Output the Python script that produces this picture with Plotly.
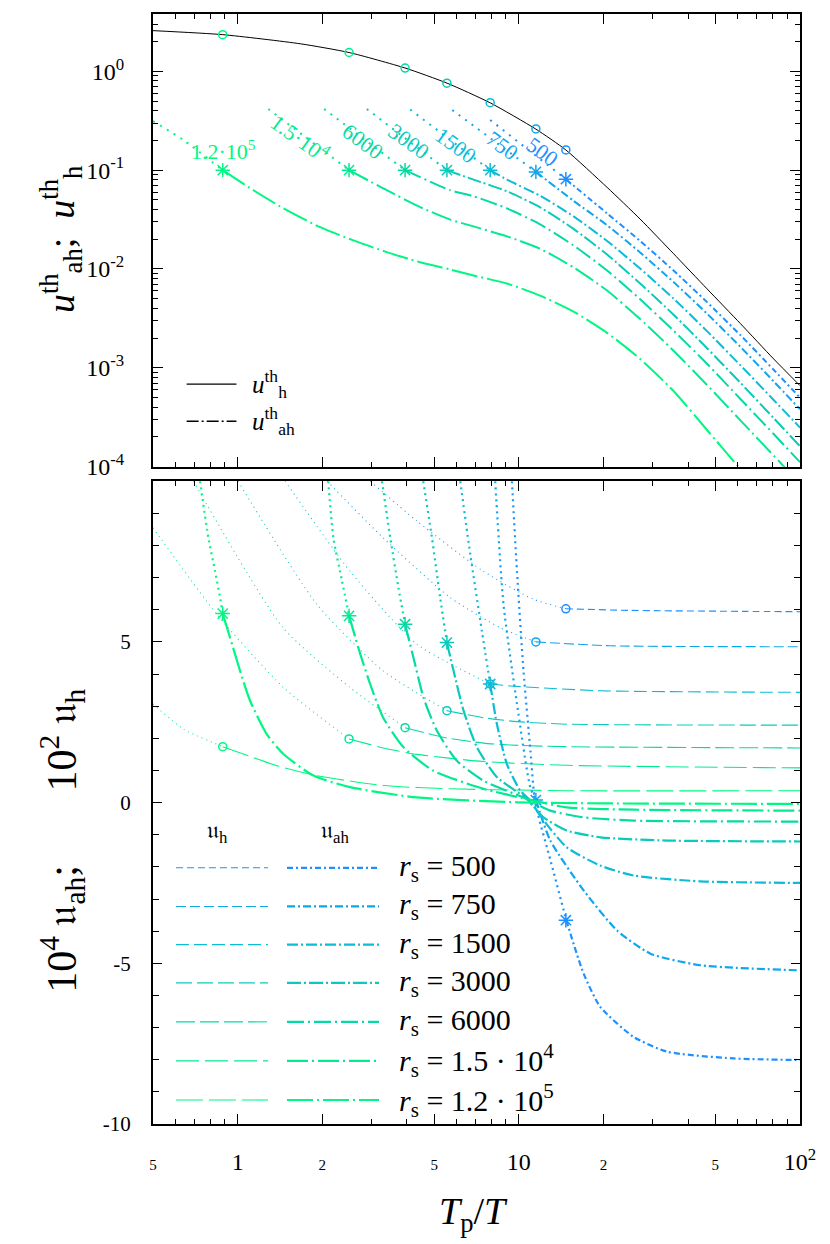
import math
import plotly.graph_objects as go

# ── values; order of every list: r_s = 500, 750, 1500, 3000, 6000, 1.5e4, 1.2e5 ──
RS_TEXT = ["500", "750", "1500", "3000", "6000", "1.5 · 10<sup>4</sup>", "1.2 · 10<sup>5</sup>"]
RS_TAG = ["500", "750", "1500", "3000", "6000", "1.5·10<sup>4</sup>", "1.2·10<sup>5</sup>"]

# T_p/T where the markers sit
MARK_X = [14.7, 11.5, 7.91, 5.55, 3.94, 2.49, 0.885]
TOP_CIRCLE_Y = [0.160, 0.261, 0.482, 0.759, 1.08, 1.55, 2.35]
TOP_STAR_Y = [0.081, 0.096, 0.10, 0.10, 0.10, 0.10, 0.10]
BOT_CIRCLE_Y = [6.03, 5.0, 3.69, 2.86, 2.33, 1.98, 1.74]
BOT_STAR_Y = [-3.66, 0.08, 3.69, 4.98, 5.55, 5.81, 5.88]

# top panel: u_h^th (black)
UHTH_X = [0.5, 0.885, 1.67, 2.49, 3.94, 5.55, 7.91, 11.5, 14.7, 20.6, 27.0, 35.4, 46.7, 61.4, 80.6, 100]
UHTH_Y = [2.58, 2.35, 1.90, 1.55, 1.08, 0.76, 0.48, 0.26, 0.16, 0.067, 0.032, 0.0144, 0.0063, 0.0028, 0.00123, 0.00066]

# top panel: u_ah^th, dotted part (left of the star)
UAHTH_DOT_X = [
    [7.91, 14.7],
    [5.80, 11.5],
    [4.11, 7.91],
    [2.88, 5.55],
    [2.03, 3.94],
    [1.286, 2.49],
    [0.5, 0.641, 0.885],
]
UAHTH_DOT_Y = [
    [0.322, 0.081],
    [0.406, 0.096],
    [0.41, 0.10],
    [0.416, 0.10],
    [0.416, 0.10],
    [0.416, 0.10],
    [0.314, 0.202, 0.10],
]
# top panel: u_ah^th, dash-dot part (right of the star)
UAHTH_X = [
    [14.7, 20.6, 27.0, 35.5, 46.7, 61.4, 80.6, 100],
    [11.5, 15.65, 20.6, 27.0, 35.5, 46.7, 61.4, 80.6, 100],
    [7.91, 9.07, 11.9, 15.65, 20.6, 27.0, 35.5, 46.7, 61.4, 80.6, 100],
    [5.55, 6.90, 9.07, 11.9, 15.65, 20.6, 27.0, 35.5, 46.7, 61.4, 80.6, 100],
    [3.94, 5.70, 6.90, 9.07, 11.9, 15.65, 20.6, 27.0, 35.5, 46.7, 61.4, 80.6, 100],
    [2.49, 3.39, 4.46, 5.70, 6.90, 9.07, 11.9, 15.65, 20.6, 27.0, 35.5, 46.7, 61.4, 87.5, 100],
    [0.885, 1.137, 1.495, 1.965, 2.58, 3.39, 4.46, 5.70, 6.90, 9.07, 11.9, 15.65, 20.6, 27.0, 35.5, 46.7, 60.2, 66.6],
]
UAHTH_Y = [
    [0.081, 0.0365, 0.0192, 0.00966, 0.00462, 0.00214, 0.000955, 0.000499],
    [0.096, 0.049, 0.0277, 0.0147, 0.00738, 0.00353, 0.00163, 0.00073, 0.000381],
    [0.10, 0.0802, 0.0551, 0.0341, 0.0192, 0.0101, 0.00502, 0.00235, 0.00106, 0.000473, 0.000248],
    [0.10, 0.0802, 0.0612, 0.0421, 0.0255, 0.0140, 0.00713, 0.00345, 0.00158, 0.000705, 0.00031, 0.000161],
    [0.10, 0.0627, 0.0544, 0.0411, 0.0283, 0.0173, 0.00966, 0.00495, 0.00238, 0.0011, 0.000484, 0.000214, 0.000111],
    [0.10, 0.0627, 0.0423, 0.0316, 0.027, 0.0214, 0.016, 0.0104, 0.00605, 0.00312, 0.00149, 0.000671, 0.000294, 0.000101, 0.000068],
    [0.10, 0.0627, 0.0393, 0.0265, 0.01945, 0.01483, 0.01172, 0.00989, 0.00859, 0.00713, 0.00538, 0.00371, 0.00226, 0.00123, 0.000583, 0.000235, 0.000101, 0.000073],
]

# bottom panel: 10^2 u_h, dotted (left of circle) and dashed (right of circle)
UH_DOT_X = [
    [2.96, 4.34, 7.47, 11.26, 14.7],
    [2.08, 3.29, 5.70, 8.59, 11.5],
    [1.475, 2.51, 4.34, 7.91],
    [1.003, 1.912, 3.29, 5.55],
    [0.696, 1.45, 2.51, 3.94],
    [0.5, 0.843, 1.455, 2.49],
    [0.5, 0.641, 0.885],
]
UH_DOT_Y = [
    [10.0, 8.76, 7.2, 6.33, 6.03],
    [10.0, 8.24, 6.38, 5.44, 5.0],
    [10.0, 7.2, 4.93, 3.69],
    [10.0, 6.17, 4.1, 2.86],
    [10.0, 5.44, 3.58, 2.33],
    [8.55, 5.86, 3.58, 1.98],
    [3.07, 2.29, 1.74],
]
UH_X = [
    [14.7, 25.0, 62.9, 100],
    [11.5, 21.1, 100],
    [7.91, 9.32, 19.5, 100],
    [5.55, 7.5, 9.85, 14.8, 100],
    [3.94, 5.5, 7.49, 9.32, 14.8, 100],
    [2.49, 3.3, 4.34, 7.49, 14.8, 100],
    [0.885, 1.4, 1.912, 3.30, 5.70, 14.8, 100],
]
UH_Y = [
    [6.03, 5.98, 5.95, 5.94],
    [5.0, 4.88, 4.85],
    [3.69, 3.63, 3.48, 3.43],
    [2.86, 2.64, 2.52, 2.44, 2.41],
    [2.33, 2.02, 1.85, 1.79, 1.74, 1.70],
    [1.98, 1.70, 1.50, 1.28, 1.16, 1.08],
    [1.74, 1.13, 0.84, 0.53, 0.43, 0.37, 0.37],
]

# bottom panel: 10^4 u_ah, dotted (left of star) and dash-dot (right of star)
UAH_DOT_X = [
    [9.45, 9.85, 10.39, 11.0, 11.44, 12.99, 14.75],
    [8.24, 8.82, 9.85, 10.98, 11.5],
    [6.19, 6.72, 7.39, 7.91],
    [4.57, 4.91, 5.25, 5.55],
    [3.26, 3.49, 3.73, 3.94],
    [2.10, 2.19, 2.35, 2.49],
    [0.735, 0.755, 0.787, 0.831, 0.866, 0.885],
]
UAH_DOT_Y = [
    [10.0, 7.2, 4.1, 1.6, 0.0, -1.83, -3.66],
    [10.0, 6.17, 3.07, 0.48, 0.08],
    [10.0, 7.72, 5.34, 3.69],
    [10.0, 8.24, 6.38, 4.98],
    [10.0, 8.24, 6.69, 5.55],
    [10.0, 8.24, 6.9, 5.81],
    [10.0, 9.28, 8.24, 7.2, 6.38, 5.88],
]
UAH_X = [
    [14.75, 17.0, 19.5, 25.6, 33.7, 58.1, 100],
    [11.5, 12.94, 17.0, 22.35, 29.4, 44.2, 100],
    [7.91, 8.36, 9.07, 10.12, 10.98, 12.0, 14.8, 19.5, 25.6, 44.2, 100],
    [5.55, 5.86, 6.36, 7.10, 8.36, 10.69, 12.25, 14.8, 19.5, 33.7, 100],
    [3.94, 4.22, 4.58, 5.11, 6.02, 7.49, 10.69, 12.94, 17.0, 25.6, 100],
    [2.49, 2.73, 2.96, 3.29, 3.89, 4.97, 7.49, 10.69, 14.8, 25.6, 100],
    [0.885, 0.94, 1.02, 1.107, 1.269, 1.455, 1.86, 2.51, 4.34, 9.85, 20.0, 100],
]
UAH_Y = [
    [-3.66, -5.32, -6.36, -7.29, -7.75, -7.96, -8.01],
    [0.08, -1.18, -2.73, -3.98, -4.70, -5.06, -5.22],
    [3.69, 2.44, 1.20, 0.37, 0.06, -0.45, -1.39, -1.96, -2.27, -2.45, -2.50],
    [4.98, 4.10, 2.86, 1.72, 0.79, 0.11, -0.46, -0.87, -1.08, -1.18, -1.21],
    [5.55, 4.51, 3.27, 2.24, 1.30, 0.68, 0.11, -0.25, -0.46, -0.56, -0.59],
    [5.81, 4.62, 3.69, 2.65, 1.72, 0.99, 0.43, 0.11, -0.15, -0.22, -0.25],
    [5.88, 5.13, 4.10, 3.17, 2.13, 1.51, 0.84, 0.48, 0.16, 0.01, -0.025, -0.04],
]

X_TICKS = [0.5, 1, 2, 5, 10, 20, 50, 100]
X_MINOR = [0.6, 0.7, 0.8, 0.9, 3, 4, 6, 7, 8, 9, 30, 40, 60, 70, 80, 90]

# ── styles ───────────────────────────────────────────────────────────────────
FONT = "Liberation Serif"
COLORS = ["#1e90ff", "#10a6ee", "#0cbcd6", "#0acbbb", "#06daa4", "#03ea92", "#00f882"]
UH_DASH = ["7px,4px", "10px,4px", "13px,5px", "16px,5px", "19px,5px", "23px,6px", "27px,6px"]
UAH_DASH = ["6px,3px,2px,3px", "8px,3px,2px,3px", "11px,3px,2px,3px", "14px,3px,2px,3px",
            "17px,4px,2px,4px", "21px,4px,2px,4px", "26px,4px,2px,4px"]
SPL = dict(shape="spline", smoothing=0.6)

traces = []


def add_line(x, y, color, width, dash, xa, ya):
    traces.append(go.Scatter(
        x=x, y=y, mode="lines", xaxis=xa, yaxis=ya, showlegend=False, hoverinfo="skip",
        line=dict(color=color, width=width, dash=dash, **SPL),
    ))


def add_marks(x, y, color, symbol, size, xa, ya):
    traces.append(go.Scatter(
        x=x, y=y, mode="markers", xaxis=xa, yaxis=ya, showlegend=False, hoverinfo="skip",
        marker=dict(symbol=symbol, size=size, color=color, line=dict(color=color, width=1.5)),
    ))


# top panel
add_line(UHTH_X, UHTH_Y, "black", 1, "solid", "x2", "y2")
for i, c in enumerate(COLORS):
    add_line(UAHTH_DOT_X[i], UAHTH_DOT_Y[i], c, 2, "2px,6px", "x2", "y2")
    add_line(UAHTH_X[i], UAHTH_Y[i], c, 2, UAH_DASH[i], "x2", "y2")
    add_marks([MARK_X[i]], [TOP_CIRCLE_Y[i]], c, "circle-open", 8, "x2", "y2")
    add_marks([MARK_X[i]], [TOP_STAR_Y[i]], c, "asterisk-open", 12, "x2", "y2")

# bottom panel
for i, c in enumerate(COLORS):
    add_line(UH_DOT_X[i], UH_DOT_Y[i], c, 1.1, "1px,4px", "x", "y")
    add_line(UH_X[i], UH_Y[i], c, 1.1, UH_DASH[i], "x", "y")
for i, c in enumerate(COLORS):
    add_line(UAH_DOT_X[i], UAH_DOT_Y[i], c, 2.2, "2px,4px", "x", "y")
    add_line(UAH_X[i], UAH_Y[i], c, 2.2, UAH_DASH[i], "x", "y")
    add_marks([MARK_X[i]], [BOT_CIRCLE_Y[i]], c, "circle-open", 8, "x", "y")
    add_marks([MARK_X[i]], [BOT_STAR_Y[i]], c, "asterisk-open", 12, "x", "y")

fig = go.Figure(data=traces)

small = "<span style='font-size:15px'>{}</span>"
x_text = [small.format(5), "1", small.format(2), small.format(5), "10", small.format(2), small.format(5), "10<sup>2</sup>"]

frame = dict(showline=True, linecolor="black", linewidth=2, mirror="allticks", ticks="inside",
             tickcolor="black", tickwidth=1.2, showgrid=False, zeroline=False)


def x_axis(labels, anchor):
    return dict(type="log", range=[math.log10(0.5), 2], domain=[0, 1], anchor=anchor,
                tickvals=X_TICKS, ticktext=x_text, showticklabels=labels, ticklen=10,
                ticklabelstandoff=15, tickfont=dict(family=FONT, size=24, color="black"),
                minor=dict(tickvals=X_MINOR, ticklen=5, ticks="inside", tickcolor="black", tickwidth=1),
                **frame)


dec = [1e-4, 1e-3, 1e-2, 1e-1, 1]
y2_minor = [m * d for d in dec for m in range(2, 10) if m * d < 4]

fig.update_layout(
    width=830, height=1244, plot_bgcolor="white", paper_bgcolor="white",
    margin=dict(l=145, r=38, t=4, b=128), showlegend=False,
    xaxis=x_axis(True, "y"),
    xaxis2=dict(x_axis(False, "y2"), matches="x"),
    yaxis=dict(range=[-10, 10], domain=[0, 0.5791], tickvals=[-10, -5, 0, 5, 10],
               ticktext=["-10", "-5", "0", "5", ""], ticklen=9, ticklabelstandoff=16,
               tickfont=dict(family=FONT, size=21, color="black"),
               minor=dict(dtick=1, ticklen=6, ticks="inside", tickcolor="black", tickwidth=1),
               **frame),
    yaxis2=dict(type="log", range=[-4, 0.58], domain=[0.5922, 1], anchor="x2",
                tickvals=dec, ticktext=["10<sup>-4</sup>", "10<sup>-3</sup>", "10<sup>-2</sup>",
                                        "10<sup>-1</sup>", "10<sup>0</sup>"],
                ticklen=10, ticklabelstandoff=22, tickfont=dict(family=FONT, size=24, color="black"),
                minor=dict(tickvals=y2_minor, ticklen=5, ticks="inside", tickcolor="black", tickwidth=1),
                **frame),
)

ann = []
shapes = []

# r_s tags along the top-panel curves (positions in log10 axis units)
TAG_POS = [(1.083, -0.807, 36), (0.941, -0.746, 36), (0.777, -0.746, 36), (0.610, -0.706, 36),
           (0.446, -0.706, 36), (0.222, -0.665, 36), (-0.052, -0.800, 0)]
for i, (tx, ty, ang) in enumerate(TAG_POS):
    ann.append(dict(xref="x2", yref="y2", x=tx, y=ty, xanchor="center", yanchor="middle",
                    text=RS_TAG[i], showarrow=False, textangle=ang,
                    font=dict(family=FONT, size=22, color=COLORS[i])))

# top legend
for yy, dash, lab in [(0.6666, "solid", "<i>u</i><sup>th</sup><sub>h</sub>"),
                      (0.6331, "12px,3px,2px,3px", "<i>u</i><sup>th</sup><sub>ah</sub>")]:
    shapes.append(dict(type="line", xref="paper", yref="paper", x0=0.052, x1=0.129, y0=yy, y1=yy,
                       line=dict(color="black", width=1.3, dash=dash)))
    ann.append(dict(xref="paper", yref="paper", x=0.150, y=yy, xanchor="left", yanchor="middle",
                    text=lab, showarrow=False, font=dict(family=FONT, size=25, color="black")))

# bottom legend
ROW_Y = [0.2308, 0.196, 0.1616, 0.1271, 0.092, 0.0569, 0.0216]
ann.append(dict(xref="paper", yref="paper", x=0.10, y=0.263, xanchor="center", yanchor="middle",
                text="𝔲<sub>h</sub>", showarrow=False, font=dict(family=FONT, size=24, color="black")))
ann.append(dict(xref="paper", yref="paper", x=0.281, y=0.263, xanchor="center", yanchor="middle",
                text="𝔲<sub>ah</sub>", showarrow=False, font=dict(family=FONT, size=24, color="black")))
for i, c in enumerate(COLORS):
    yy = ROW_Y[i]
    shapes.append(dict(type="line", xref="paper", yref="paper", x0=0.0355, x1=0.1777, y0=yy, y1=yy,
                       line=dict(color=c, width=1.1, dash=UH_DASH[i])))
    shapes.append(dict(type="line", xref="paper", yref="paper", x0=0.2071, x1=0.3493, y0=yy, y1=yy,
                       line=dict(color=c, width=2.2, dash=UAH_DASH[i])))
    ann.append(dict(xref="paper", yref="paper", x=0.377, y=yy, xanchor="left", yanchor="middle",
                    text="<i>r</i><sub>s</sub> = " + RS_TEXT[i], showarrow=False,
                    font=dict(family=FONT, size=30, color="black")))

# axis titles
ann.append(dict(xref="paper", yref="paper", x=-0.141, y=0.797, xanchor="center", yanchor="middle",
                textangle=-90, showarrow=False,
                text="<i>u</i><sup>th</sup><sub>ah</sub>;  <i>u</i><sup>th</sup><sub>h</sub>",
                font=dict(family=FONT, size=38, color="black")))
ann.append(dict(xref="paper", yref="paper", x=-0.141, y=0.255, xanchor="center", yanchor="middle",
                textangle=-90, showarrow=False,
                text="10<sup>4</sup> 𝔲<sub>ah</sub>;       10<sup>2</sup> 𝔲<sub>h</sub>",
                font=dict(family=FONT, size=42, color="black")))
ann.append(dict(xref="paper", yref="paper", x=0.496, y=-0.0576, xanchor="center", yanchor="top",
                showarrow=False, text="<i>T</i><sub>p</sub>/<i>T</i>",
                font=dict(family=FONT, size=38, color="black")))

fig.update_layout(annotations=ann, shapes=shapes)
fig.write_html("out.html")
